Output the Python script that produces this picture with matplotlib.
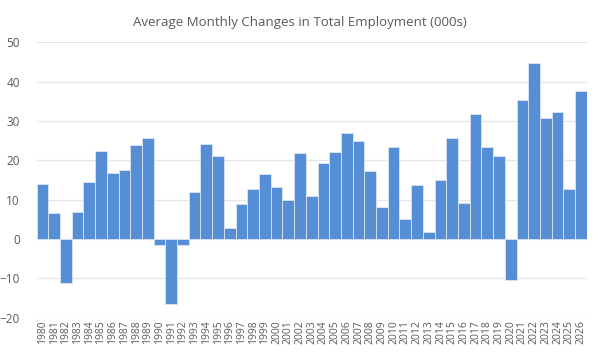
import matplotlib
matplotlib.use('Agg')
import matplotlib.pyplot as plt

years = [str(y) for y in range(1980, 2027)]
changes = [13.9, 6.5, -11.3, 6.9, 14.5, 22.3, 16.7, 17.5, 23.8, 25.7,
           -1.5, -16.4, -1.5, 12.0, 24.1, 21.2, 2.7, 9.0, 12.6, 16.6,
           13.1, 9.9, 21.8, 11.0, 19.3, 22.0, 26.9, 24.8, 17.2, 8.1,
           23.4, 5.2, 13.6, 1.9, 14.9, 25.7, 9.2, 31.7, 23.4, 21.2,
           -10.4, 35.2, 44.8, 30.8, 32.2, 12.6, 37.5]

plt.rcParams['font.family'] = ['Open Sans', 'DejaVu Sans']
txt = '#595959'

fig = plt.figure(figsize=(6, 3.61), dpi=100)
ax = fig.add_axes([0.061, 0.12, 0.917, 0.763])

x = range(len(years))
ax.bar(x, changes, width=1.0, color='#558ED5', edgecolor='#DCE6F4', linewidth=0.6, zorder=3)

ax.set_xlim(-0.5, len(years) - 0.5)
ax.set_ylim(-20, 50)
ax.set_yticks(range(-20, 51, 10))
ax.grid(axis='y', color='#E6E6E6', linewidth=1, zorder=0)
ax.set_xticks(list(x))
ax.set_xticklabels(years, rotation=90, fontsize=7.5, color=txt)
ax.tick_params(axis='y', labelsize=8.5, colors=txt, length=0, pad=12)
ax.tick_params(axis='x', length=0, pad=2)
for s in ax.spines.values():
    s.set_visible(False)

fig.suptitle('Average Monthly Changes in Total Employment (000s)', y=0.955, fontsize=9.5, color=txt)

fig.savefig('out.png', dpi=100)
